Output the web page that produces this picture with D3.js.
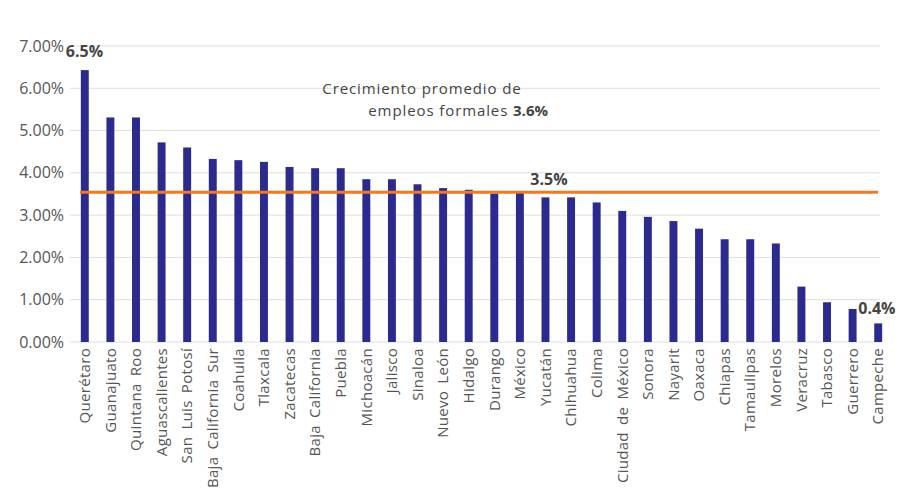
<!DOCTYPE html>
<html><head><meta charset="utf-8">
<script src="https://cdn.jsdelivr.net/npm/d3@7"></script>
<style>body{margin:0;background:#fff;}svg{display:block;font-family:"Open Sans",sans-serif;}</style>
</head><body><svg id="c" width="902" height="503"></svg>
<script>
const states = ["Querétaro","Guanajuato","Quintana Roo","Aguascalientes","San Luis Potosí","Baja California Sur","Coahuila","Tlaxcala","Zacatecas","Baja California","Puebla","Michoacán","Jalisco","Sinaloa","Nuevo León","Hidalgo","Durango","México","Yucatán","Chihuahua","Colima","Ciudad de México","Sonora","Nayarit","Oaxaca","Chiapas","Tamaulipas","Morelos","Veracruz","Tabasco","Guerrero","Campeche"];
const growth = [6.43,5.31,5.31,4.72,4.60,4.33,4.30,4.26,4.14,4.11,4.11,3.85,3.85,3.73,3.64,3.60,3.51,3.53,3.42,3.42,3.30,3.10,2.96,2.86,2.68,2.43,2.43,2.33,1.31,0.94,0.78,0.44];
const yTicks = [0,1,2,3,4,5,6,7];
const averageLine = 3.54;

const svg = d3.select("#c");
const x = d3.scaleBand().domain(states).range([72,891]).paddingInner(0.69).paddingOuter(0.345);
const y = d3.scaleLinear().domain([0,7]).range([342,46]);

// grid
svg.append("g").selectAll("line").data(yTicks).join("line")
  .attr("x1",70).attr("x2",880).attr("y1",d=>y(d)).attr("y2",d=>y(d))
  .attr("stroke","#dedede").attr("stroke-width",1);

// y axis labels
const yAxis = d3.axisLeft(y).tickValues(yTicks).tickFormat(d=>d.toFixed(2)+"%").tickSize(0).tickPadding(0);
const ya = svg.append("g").attr("transform","translate(64,0)").call(yAxis);
ya.select(".domain").remove();
ya.selectAll("text").attr("font-size",16).attr("fill","#555").attr("font-family","Open Sans");

// bars
svg.append("g").selectAll("rect").data(states).join("rect")
  .attr("x",d=>x(d)).attr("width",x.bandwidth())
  .attr("y",(d,i)=>y(growth[i])).attr("height",(d,i)=>y(0)-y(growth[i]))
  .attr("fill","#2b2a8e");

// x axis labels
const xAxis = d3.axisBottom(x).tickSize(0).tickPadding(0);
const xa = svg.append("g").attr("transform","translate(0,348)").call(xAxis);
xa.select(".domain").remove();
xa.selectAll("text").attr("font-size",15).attr("fill","#555").attr("font-family","Open Sans")
  .attr("letter-spacing","0.3px").attr("word-spacing","3px")
  .attr("text-anchor","end").attr("dy","0.35em").attr("transform","rotate(-90)").attr("x",0).attr("y",0);

// average line
svg.append("line").attr("x1",80).attr("x2",878).attr("y1",y(averageLine)).attr("y2",y(averageLine))
  .attr("stroke","#f07a22").attr("stroke-width",3);

// value labels
const vl = svg.append("g").attr("font-size",16).attr("font-weight","bold").attr("fill","#444");
vl.append("text").attr("x",x("Querétaro")-15).attr("y",57).text("6.5%");
vl.append("text").attr("x",x("Campeche")-16).attr("y",314).text("0.4%");
vl.append("text").attr("x",549).attr("y",185).attr("text-anchor","middle").text("3.5%");

// annotation
const ann = svg.append("g").attr("fill","#444").attr("font-size",15).attr("letter-spacing","0.9px");
ann.append("text").attr("x",422).attr("y",94).attr("text-anchor","middle").text("Crecimiento promedio de");
const t2 = ann.append("text").attr("x",548).attr("y",116).attr("text-anchor","end");
t2.append("tspan").text("empleos formales ");
t2.append("tspan").attr("font-weight","bold").attr("letter-spacing","0px").text("3.6%");
</script></body></html>
